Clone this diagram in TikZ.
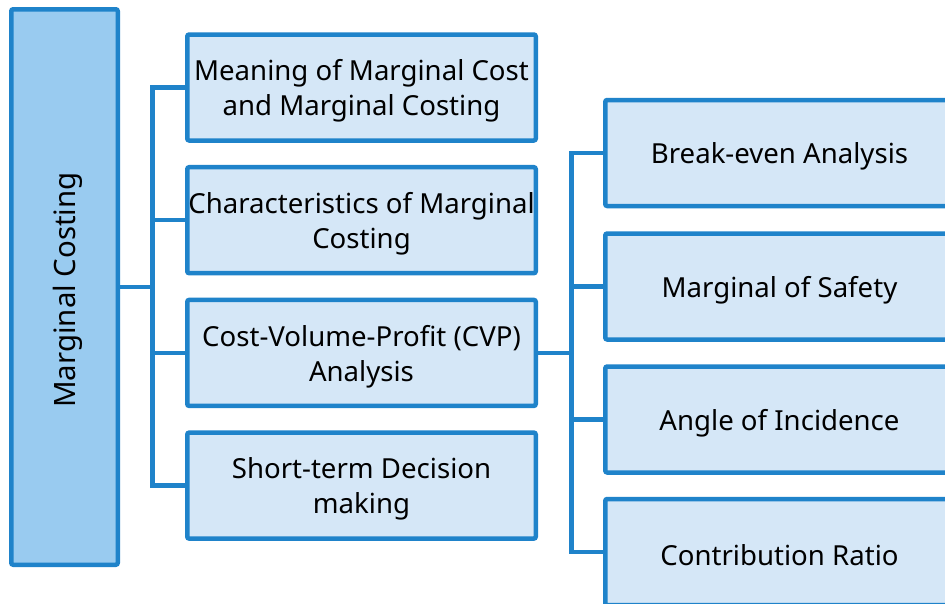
\documentclass[tikz,border=0pt]{standalone}
\usepackage{fontspec}
\setmainfont{Noto Sans}
\definecolor{bord}{RGB}{31,131,202}
\definecolor{mainfill}{RGB}{153,203,240}
\definecolor{boxfill}{RGB}{213,231,247}
\begin{document}
\begin{tikzpicture}[x=1pt,y=-1pt,
  every node/.style={inner sep=0pt},
  basebox/.style={draw=bord, line width=4.5pt, rounded corners=2pt},
  lvlbox/.style={basebox, fill=boxfill, minimum width=348.5pt, minimum height=106pt},
  rootbox/.style={basebox, fill=mainfill, minimum width=106.5pt, minimum height=555.5pt},
  boxtext/.style={align=center, font=\fontsize{27.6}{35}\selectfont, yshift=-3.5pt},
  conn/.style={draw=bord, line width=4.5pt}
]
\useasboundingbox (0,0) rectangle (945,603);
\clip (0,0) rectangle (945,603);
\node[rootbox] (m) at (64.5,287) {};
\node[rotate=90, font=\fontsize{29.4}{35}\selectfont] (mt) at (68,290) {Marginal Costing};
\node[lvlbox] (b1) at (361.5,87.5) {};
\node[lvlbox] (b2) at (361.5,220.2) {};
\node[lvlbox] (b3) at (361.5,352.9) {};
\node[lvlbox] (b4) at (361.5,485.6) {};
\node[lvlbox] (c1) at (779.5,153) {};
\node[lvlbox] (c2) at (779.5,286.5) {};
\node[lvlbox] (c3) at (779.5,419.5) {};
\node[lvlbox] (c4) at (779.5,552) {};
\node[boxtext] (b1t) at (b1.center) {Meaning of Marginal Cost\\and Marginal Costing};
\node[boxtext] (b2t) at (b2.center) {Characteristics of Marginal\\Costing};
\node[boxtext] (b3t) at (b3.center) {Cost-Volume-Profit (CVP)\\Analysis};
\node[boxtext] (b4t) at (b4.center) {Short-term Decision\\making};
\node[boxtext] (c1t) at (c1.center) {Break-even Analysis};
\node[boxtext] (c2t) at (c2.center) {Marginal of Safety};
\node[boxtext] (c3t) at (c3.center) {Angle of Incidence};
\node[boxtext] (c4t) at (c4.center) {Contribution Ratio};
\coordinate (t0) at (152.5,287);
\coordinate (t4) at (152.5,485.6);
\coordinate (s0) at (571.5,352.9);
\coordinate (s4) at (571.5,552);
\draw[conn] (m.east |- t0) -- (t0);
\draw[conn] (b1.west) -| (t4) -- (b4.west);
\draw[conn] (b2.west) -- (b2.west -| t0);
\draw[conn] (b3.west) -- (b3.west -| t0);
\draw[conn] (b3.east) -- (s0);
\draw[conn] (c1.west) -| (s4) -- (c4.west);
\draw[conn] (c2.west) -- (c2.west -| s0);
\draw[conn] (c3.west) -- (c3.west -| s0);
\end{tikzpicture}
\end{document}
